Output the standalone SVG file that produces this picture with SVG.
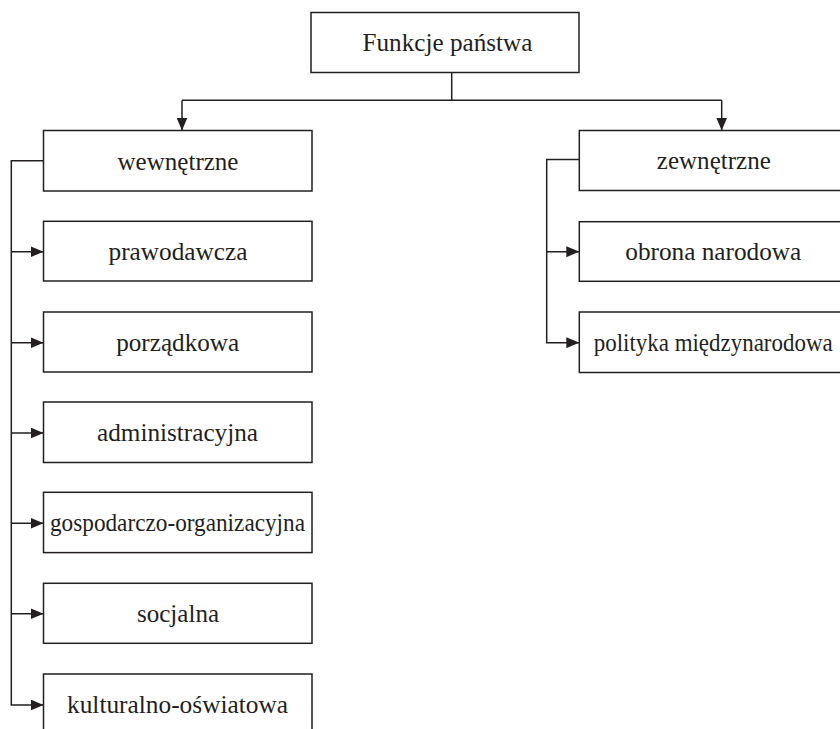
<svg xmlns="http://www.w3.org/2000/svg" width="840" height="729" viewBox="0 0 840 729">
<defs>
<marker id="ah" markerUnits="userSpaceOnUse" markerWidth="13" markerHeight="11" refX="13" refY="5.5" orient="auto">
<path d="M0,0 L13,5.5 L0,11 Z" fill="#231f20"/>
</marker>
<style>
rect{fill:#fff;stroke:#231f20;stroke-width:1.5}
.c path{fill:none;stroke:#231f20;stroke-width:1.5}
.c path.a{marker-end:url(#ah)}
text{font-size:26px;fill:#231f20;text-anchor:middle}
</style>
</defs>
<rect x="0" y="0" width="840" height="729" style="fill:#fff;stroke:none"/>
<g class="c" id="connectors">
<path d="M451.7 72.5 V100.3"/>
<path d="M182 100.3 H721.7"/>
<path class="a" d="M182 100.3 V130.5"/>
<path class="a" d="M721.7 100.3 V130.5"/>
<path class="a" d="M43.5 160.7 H11.3 V705 H43.5"/>
<path class="a" d="M11.3 251.7 H43.5"/>
<path class="a" d="M11.3 342.7 H43.5"/>
<path class="a" d="M11.3 433 H43.5"/>
<path class="a" d="M11.3 523.3 H43.5"/>
<path class="a" d="M11.3 613.7 H43.5"/>
<path class="a" d="M579.3 159.5 H546.7 V342.7 H579.3"/>
<path class="a" d="M546.7 251.7 H579.3"/>
</g>
<g font-family="Liberation Serif, Times New Roman, serif">
<g id="root"><rect x="311" y="12.5" width="268" height="60"/><text x="447.5" y="50.5" textLength="170" lengthAdjust="spacingAndGlyphs">Funkcje państwa</text></g>
<g id="wewnetrzne"><rect x="43.5" y="130.5" width="268.5" height="60.5"/><text x="178" y="169.5" textLength="121" lengthAdjust="spacingAndGlyphs">wewnętrzne</text></g>
<g id="prawodawcza"><rect x="43.5" y="221.3" width="268.5" height="59.7"/><text x="178" y="259.5" textLength="139" lengthAdjust="spacingAndGlyphs">prawodawcza</text></g>
<g id="porzadkowa"><rect x="43.5" y="312" width="268.5" height="60"/><text x="177.7" y="350.5" textLength="123" lengthAdjust="spacingAndGlyphs">porządkowa</text></g>
<g id="administracyjna"><rect x="43.5" y="402" width="268.5" height="60.5"/><text x="177.5" y="441" textLength="161" lengthAdjust="spacingAndGlyphs">administracyjna</text></g>
<g id="gospodarczo"><rect x="43.5" y="492.3" width="268.5" height="60.3"/><text x="177.5" y="531" textLength="255" lengthAdjust="spacingAndGlyphs">gospodarczo-organizacyjna</text></g>
<g id="socjalna"><rect x="43.5" y="583.3" width="268.5" height="60"/><text x="178" y="621.5" textLength="82" lengthAdjust="spacingAndGlyphs">socjalna</text></g>
<g id="kulturalno"><rect x="43.5" y="674" width="268.5" height="60"/><text x="177.5" y="712.5" textLength="221" lengthAdjust="spacingAndGlyphs">kulturalno-oświatowa</text></g>
<g id="zewnetrzne"><rect x="579.3" y="130.5" width="268.7" height="60"/><text x="713.8" y="169" textLength="114" lengthAdjust="spacingAndGlyphs">zewnętrzne</text></g>
<g id="obrona"><rect x="579.3" y="221.7" width="268.7" height="59.6"/><text x="713.3" y="259.5" textLength="176" lengthAdjust="spacingAndGlyphs">obrona narodowa</text></g>
<g id="polityka"><rect x="579.3" y="312" width="268.7" height="60.5"/><text x="713.2" y="350.5" textLength="239" lengthAdjust="spacingAndGlyphs">polityka międzynarodowa</text></g>
</g>
</svg>
